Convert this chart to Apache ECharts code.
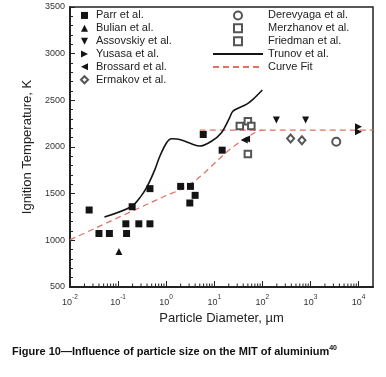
<!DOCTYPE html>
<html>
<head>
<meta charset="utf-8">
<script src="https://cdn.jsdelivr.net/npm/echarts@6/dist/echarts.min.js"></script>
<style>
html, body { margin: 0; padding: 0; background: #fff; }
#chart { width: 386px; height: 377px; }
</style>
</head>
<body>
<div id="chart"></div>
<script>
// particle diameter (µm) / ignition temperature (K)
const parrD = [0.025, 0.04, 0.066, 0.145, 0.15, 0.196, 0.27, 0.46, 0.46, 2.0, 3.2, 3.1, 4.0, 5.9, 14.6];
const parrT = [1325, 1073, 1073, 1177, 1073, 1360, 1177, 1177, 1554, 1578, 1578, 1400, 1482, 2134, 1966];
const bulianD = [0.104];
const bulianT = [880];
const assovskiyD = [196, 795];
const assovskiyT = [2288, 2288];
const yusasaD = [10000, 10000];
const yusasaT = [2217, 2163];
const brossardD = [42, 47];
const brossardT = [2075, 2085];
const ermakovD = [387, 665];
const ermakovT = [2091, 2073];
const derevyagaD = [3440];
const derevyagaT = [2056];
const merzhanovD = [34, 50, 59];
const merzhanovT = [2224, 2277, 2224];
const friedmanD = [50];
const friedmanT = [1925];
const trunovD = [0.052, 0.191, 0.298, 0.403, 0.582, 0.738, 1.02, 1.29, 1.92, 3.63, 5.0, 8.75, 14.1, 20.9, 24.5, 46.6, 63.8, 100];
const trunovT = [1249, 1363, 1471, 1578, 1758, 1901, 2045, 2088, 2081, 2027, 2010, 2062, 2153, 2314, 2385, 2457, 2511, 2611];
const fitD = [0.01, 1, 2, 4.3, 21, 69, 100];
const fitT = [1005, 1480, 1545, 1651, 1973, 2153, 2180];
const plateauD = [5, 20000];
const plateauT = [2180, 2180];

// log axis minor ticks: 2..9 in each decade
const decades = [-2, -1, 0, 1, 2, 3];
const minorSteps = [2, 3, 4, 5, 6, 7, 8, 9];

const font = 'Liberation Sans, Arial, Helvetica, sans-serif';
const ink = '#141414';
const openInk = '#555';
const fitColor = '#e2705e';

const triUp = 'path://M5,0L10,10L0,10Z';
const triDown = 'path://M0,0L10,0L5,10Z';
const triRight = 'path://M0,0L10,5L0,10Z';
const triLeft = 'path://M10,0L0,5L10,10Z';

const zip = (xs, ys) => xs.map((x, i) => [x, ys[i]]);
const minorTicks = [];
decades.forEach(e => minorSteps.forEach(m => minorTicks.push([m * Math.pow(10, e), 500])));

function marks(name, d, t, symbol, size, open) {
  return {
    name, type: 'scatter', data: zip(d, t), symbol, symbolSize: size, z: 4,
    itemStyle: open
      ? { color: openInk, borderColor: openInk, borderWidth: 1, opacity: 1 }
      : { color: ink, opacity: 1 }
  };
}

const legendText = { fontFamily: font, fontSize: 11, color: '#222', lineHeight: 12.86 };
const hiddenDot = { color: 'rgba(0,0,0,0)', borderColor: 'rgba(0,0,0,0)', borderWidth: 0, opacity: 0 };

const chart = echarts.init(document.getElementById('chart'));

chart.setOption({
  animation: false,
  backgroundColor: '#fff',
  textStyle: { fontFamily: font },
  title: {
    left: 12, top: 345, padding: 0,
    text: 'Figure 10\u2014Influence of particle size on the MIT of aluminium{s|40}',
    textStyle: {
      fontFamily: font, fontSize: 11, fontWeight: 'bold', color: '#111',
      rich: { s: { fontFamily: font, fontSize: 7, fontWeight: 'bold', color: '#111', verticalAlign: 'top', lineHeight: 13 } }
    }
  },
  legend: [
    {
      orient: 'vertical', left: 80, top: 9, padding: 0,
      itemWidth: 7, itemHeight: 7, itemGap: 0, selectedMode: false,
      textStyle: Object.assign({ padding: [0, 0, 0, 3] }, legendText),
      data: ['Parr et al.', 'Bulian et al.', 'Assovskiy et al.', 'Yusasa et al.', 'Brossard et al.', 'Ermakov et al.']
    },
    {
      orient: 'vertical', left: 233, top: 9, padding: 0,
      itemWidth: 8, itemHeight: 8, itemGap: 0, selectedMode: false,
      textStyle: Object.assign({ padding: [0, 0, 0, 21] }, legendText),
      data: ['Derevyaga et al.', 'Merzhanov et al.', 'Friedman et al.']
    },
    {
      orient: 'vertical', left: 212, top: 47.6, padding: 0,
      itemWidth: 50, itemHeight: 8, itemGap: 0, selectedMode: false,
      textStyle: legendText,
      data: [
        { name: 'Trunov et al.', itemStyle: hiddenDot },
        { name: 'Curve Fit', itemStyle: hiddenDot }
      ]
    }
  ],
  grid: {
    left: 70, right: 13, top: 7, bottom: 90,
    show: true, borderColor: '#222', borderWidth: 1.5,
    outerBoundsMode: 'none'
  },
  xAxis: {
    type: 'log', logBase: 10, min: 0.01, max: 20000,
    axisLine: { show: true, lineStyle: { color: '#222', width: 2 } },
    axisTick: { inside: true, length: 6, lineStyle: { color: '#222', width: 1 } },
    splitLine: { show: false },
    axisLabel: {
      margin: 7, showMaxLabel: false,
      formatter: v => {
        const e = Math.log10(v);
        if (Math.abs(e - Math.round(e)) > 1e-6) return '';
        return '{b|10}{s|' + Math.round(e) + '}';
      },
      rich: {
        b: { fontFamily: font, fontSize: 9, color: '#333', verticalAlign: 'bottom', lineHeight: 13 },
        s: { fontFamily: font, fontSize: 6.5, color: '#333', verticalAlign: 'top', lineHeight: 13 }
      }
    },
    name: 'Particle Diameter, \u00b5m', nameLocation: 'middle', nameGap: 23,
    nameTextStyle: { fontFamily: font, fontSize: 13, color: '#222' }
  },
  yAxis: {
    type: 'value', min: 500, max: 3500, interval: 500,
    axisLine: { show: true, lineStyle: { color: '#222', width: 2 } },
    axisTick: { inside: true, length: 5, lineStyle: { color: '#222', width: 1 } },
    minorTick: { show: true, splitNumber: 5, length: 3, lineStyle: { color: '#222', width: 1 } },
    splitLine: { show: false },
    axisLabel: { margin: 5, fontFamily: font, fontSize: 9, color: '#333', formatter: v => String(v) },
    name: 'Ignition Temperature, K', nameLocation: 'middle', nameGap: 27,
    nameTextStyle: { fontFamily: font, fontSize: 13, color: '#222' }
  },
  series: [
    marks('Parr et al.', parrD, parrT, 'rect', 7),
    marks('Bulian et al.', bulianD, bulianT, triUp, 7),
    marks('Assovskiy et al.', assovskiyD, assovskiyT, triDown, 7),
    marks('Yusasa et al.', yusasaD, yusasaT, triRight, 7),
    marks('Brossard et al.', brossardD, brossardT, triLeft, 7),
    marks('Ermakov et al.', ermakovD, ermakovT, 'emptyDiamond', [7, 8], true),
    marks('Derevyaga et al.', derevyagaD, derevyagaT, 'emptyCircle', 8, true),
    marks('Merzhanov et al.', merzhanovD, merzhanovT, 'emptyRect', 6.5, true),
    marks('Friedman et al.', friedmanD, friedmanT, 'emptyRect', 6.5, true),
    {
      name: 'Trunov et al.', type: 'line', data: zip(trunovD, trunovT),
      symbol: 'none', smooth: 0.3, z: 3,
      lineStyle: { color: ink, width: 1.6 }, itemStyle: { color: ink }
    },
    {
      name: 'Curve Fit', type: 'line', data: zip(fitD, fitT),
      symbol: 'none', smooth: 0.3, z: 2,
      lineStyle: { color: fitColor, width: 1.2, type: [6, 4] }, itemStyle: { color: fitColor }
    },
    {
      name: 'Curve Fit', type: 'line', data: zip(plateauD, plateauT),
      symbol: 'none', z: 2,
      lineStyle: { color: fitColor, width: 1.2, type: [6, 4] }, itemStyle: { color: fitColor }
    },
    {
      type: 'custom', silent: true, z: 5, clip: false,
      data: minorTicks,
      renderItem: (params, api) => {
        const p = api.coord([api.value(0), api.value(1)]);
        return {
          type: 'line',
          shape: { x1: p[0], y1: p[1], x2: p[0], y2: p[1] - 3.5 },
          style: { stroke: '#222', lineWidth: 1 }
        };
      }
    }
  ]
});
</script>
</body>
</html>
